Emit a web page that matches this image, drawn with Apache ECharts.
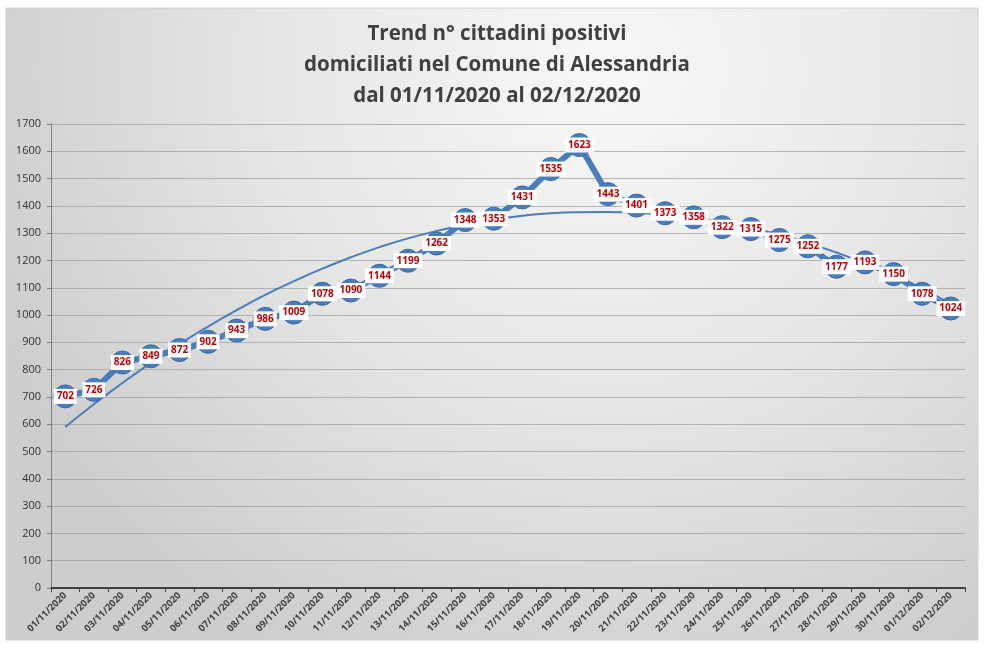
<!DOCTYPE html>
<html>
<head>
<meta charset="utf-8">
<script src="https://cdn.jsdelivr.net/npm/echarts@6/dist/echarts.min.js"></script>
<style>html,body{margin:0;padding:0;background:#fff;}#c{width:984px;height:650px;}</style>
</head>
<body>
<div id="c"></div>
<script>
const titleLines = ["Trend n° cittadini positivi", "domiciliati nel Comune di Alessandria", "dal 01/11/2020 al 02/12/2020"];
const dates = ["01/11/2020","02/11/2020","03/11/2020","04/11/2020","05/11/2020","06/11/2020","07/11/2020","08/11/2020","09/11/2020","10/11/2020","11/11/2020","12/11/2020","13/11/2020","14/11/2020","15/11/2020","16/11/2020","17/11/2020","18/11/2020","19/11/2020","20/11/2020","21/11/2020","22/11/2020","23/11/2020","24/11/2020","25/11/2020","26/11/2020","27/11/2020","28/11/2020","29/11/2020","30/11/2020","01/12/2020","02/12/2020"];
const positives = [702,726,826,849,872,902,943,986,1009,1078,1090,1144,1199,1262,1348,1353,1431,1535,1623,1443,1401,1373,1358,1322,1315,1275,1252,1177,1193,1150,1078,1024];
const trendline = [590,673,751,825,894,958,1018,1074,1124,1170,1212,1249,1281,1308,1331,1350,1364,1373,1377,1378,1375,1368,1356,1340,1319,1294,1264,1229,1190,1146,1098,1040];
const yTicks = {min: 0, max: 1700, interval: 100};

const chart = echarts.init(document.getElementById('c'), null, {renderer: 'canvas'});
const BLUE = '#4a7ebb';
chart.setOption({
  animation: false,
  backgroundColor: '#ffffff',
  graphic: [{
    type: 'rect', z: -10, silent: true,
    shape: {x: 6, y: 8, width: 972, height: 632},
    style: {
      fill: new echarts.graphic.RadialGradient(0.62, 0.1, 1.05, [
        {offset: 0, color: '#f8f8f8'},
        {offset: 0.5, color: '#e6e6e6'},
        {offset: 1, color: '#cdcdcd'}
      ]),
      stroke: '#d0d0d0', lineWidth: 1
    }
  }],
  title: {
    text: titleLines.join('\n'),
    left: 492, top: 14, textAlign: 'center',
    textStyle: {fontFamily: 'Open Sans', fontWeight: 'bold', fontSize: 20.5, color: '#404040', lineHeight: 31}
  },
  grid: {left: 51, right: 19, top: 124, bottom: 62, containLabel: false},
  xAxis: {
    type: 'category', data: dates, boundaryGap: true,
    axisLine: {lineStyle: {color: '#404040', width: 2}},
    axisTick: {show: true, alignWithLabel: false, length: 4, lineStyle: {color: '#404040'}},
    axisLabel: {interval: 0, rotate: 45, fontFamily: 'Open Sans', fontWeight: 'bold', fontSize: 9.5, color: '#404040', margin: 6}
  },
  yAxis: {
    type: 'value', min: yTicks.min, max: yTicks.max, interval: yTicks.interval,
    axisLine: {show: true, lineStyle: {color: '#808080', width: 1}},
    axisTick: {show: true, length: 4, lineStyle: {color: '#808080'}},
    axisLabel: {fontFamily: 'Open Sans', fontSize: 11, color: '#303030', margin: 10, formatter: v => String(v)},
    splitLine: {lineStyle: {color: '#9c9c9c', width: 1, opacity: 0.7}}
  },
  series: [{
    type: 'line', data: positives, z: 3,
    lineStyle: {color: BLUE, width: 6},
    symbol: 'circle', symbolSize: 23,
    itemStyle: {color: BLUE, borderColor: '#3b6aa5', borderWidth: 1},
    label: {
      show: true, position: 'inside', formatter: '{c}',
      color: '#c00000', fontFamily: 'Open Sans', fontWeight: 'bold', fontSize: 10,
      backgroundColor: '#ffffff', padding: [3, 3, 2, 3]
    }
  }, {
    type: 'line', data: trendline, z: 2, smooth: true,
    symbol: 'none', lineStyle: {color: BLUE, width: 2}
  }]
});
</script>
</body>
</html>
